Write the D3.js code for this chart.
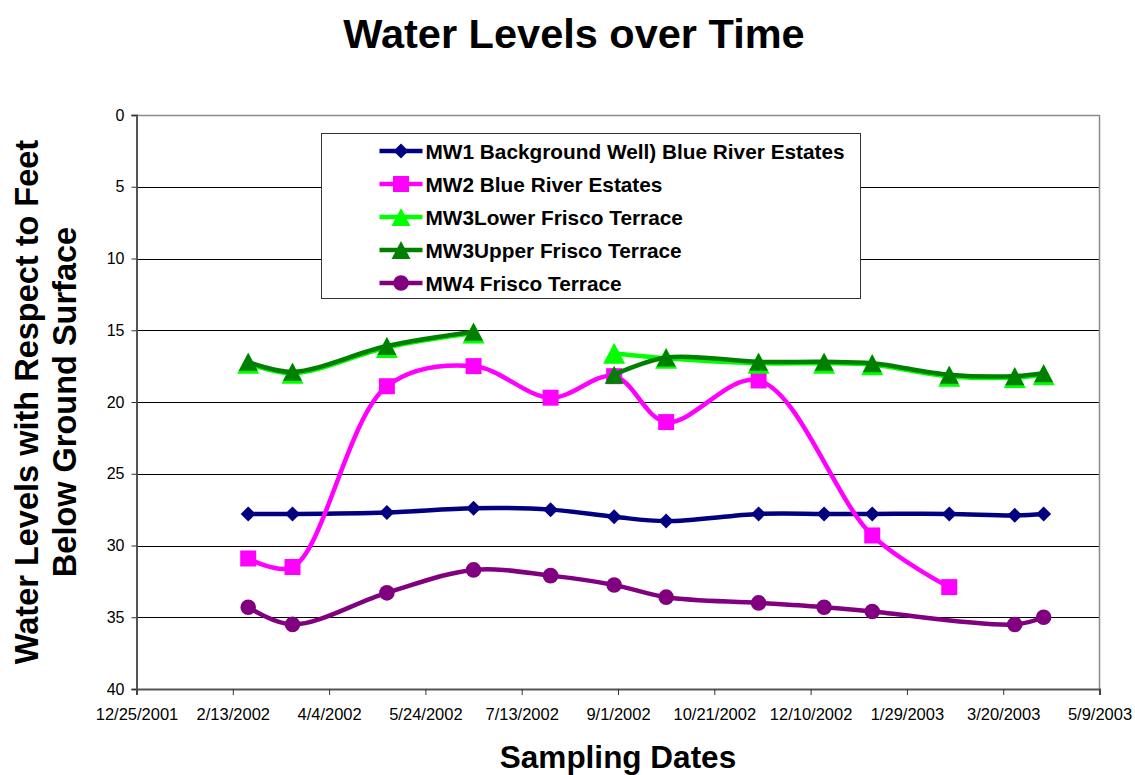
<!DOCTYPE html>
<html>
<head>
<meta charset="utf-8">
<script src="https://cdn.jsdelivr.net/npm/d3@7"></script>
<style>
    body { margin: 0; background: #fff; }
    svg { display: block; font-family: "Liberation Sans", Arial, sans-serif; }
    .grid line { stroke: #000; stroke-width: 1; shape-rendering: crispEdges; }
    .tick-label { font-size: 16.5px; fill: #000; }
    .title { font-size: 41.5px; font-weight: bold; }
    .axis-title { font-size: 31.5px; font-weight: bold; }
    .legend-label { font-size: 20.8px; font-weight: bold; }
</style>
</head>
<body>
<svg id="chart" width="1135" height="775"></svg>
<script>
'use strict';

// sampling dates (m/d/yyyy)
var sampleDates = ['2/21/2002', '3/16/2002', '5/4/2002', '6/18/2002', '7/28/2002', '8/30/2002', '9/26/2002',
    '11/13/2002', '12/17/2002', '1/11/2003', '2/20/2003', '3/26/2003', '4/10/2003'];

// depth below ground surface, feet (null = not sampled)
var mw1 = [27.8, 27.8, 27.7, 27.4, 27.5, 28.0, 28.3, 27.8, 27.8, 27.8, 27.8, 27.9, 27.8];
var mw2 = [30.9, 31.5, 18.9, 17.5, 19.7, 18.2, 21.4, 18.5, null, 29.3, 32.9, null, null];
var mw3Lower = [17.3, 18.0, 16.2, 15.2, null, 16.6, 16.95, 17.3, 17.3, 17.4, 18.2, 18.3, 18.1];
var mw3Upper = [17.2, 17.9, 16.1, 15.1, null, 18.1, 16.9, 17.2, 17.2, 17.3, 18.1, 18.2, 18.0];
var mw4 = [34.3, 35.5, 33.3, 31.7, 32.1, 32.75, 33.6, 34.0, 34.3, 34.6, null, 35.5, 35.0];

var xTickLabels = ['12/25/2001', '2/13/2002', '4/4/2002', '5/24/2002', '7/13/2002', '9/1/2002',
    '10/21/2002', '12/10/2002', '1/29/2003', '3/20/2003', '5/9/2003'];
var yTickValues = [0, 5, 10, 15, 20, 25, 30, 35, 40];

// span: line goes on over a missing sample, break: line stops there
var series = [
    { name: 'MW1 Background Well) Blue River Estates', values: mw1, color: '#000080', marker: 'diamond', gaps: 'span' },
    { name: 'MW2 Blue River Estates', values: mw2, color: '#ff00ff', marker: 'square', gaps: 'span' },
    { name: 'MW3Lower Frisco Terrace', values: mw3Lower, color: '#00ff00', marker: 'triangleBig', gaps: 'break' },
    { name: 'MW3Upper Frisco Terrace', values: mw3Upper, color: '#008000', marker: 'triangle', gaps: 'break' },
    { name: 'MW4 Frisco Terrace', values: mw4, color: '#800080', marker: 'circle', gaps: 'span' }
];

var parseDate = d3.utcParse('%m/%d/%Y');
var svg = d3.select('#chart');

var plot = { left: 136.5, right: 1099.5, top: 115, bottom: 689 };

var x = d3.scaleUtc()
    .domain([parseDate(xTickLabels[0]), parseDate(xTickLabels[xTickLabels.length - 1])])
    .range([plot.left, plot.right]);
var y = d3.scaleLinear().domain([0, 40]).range([plot.top, plot.bottom]);

// cx, cy: center
function markerPath(shape, cx, cy) {
    var h;
    if (shape === 'diamond') {
        h = 7.5;
        return ['M', cx, cy - h, 'L', cx + h, cy, 'L', cx, cy + h, 'L', cx - h, cy, 'Z'].join(' ');
    }
    if (shape === 'square') {
        h = 8;
        return ['M', cx - h, cy - h, 'h', 2 * h, 'v', 2 * h, 'h', -2 * h, 'Z'].join(' ');
    }
    if (shape === 'triangle' || shape === 'triangleBig') {
        var w = shape === 'triangle' ? 9.5 : 11;
        var t = shape === 'triangle' ? 9 : 10.5;
        return ['M', cx, cy - t, 'L', cx + w, cy + t, 'L', cx - w, cy + t, 'Z'].join(' ');
    }
    h = 7.8;
    return ['M', cx - h, cy, 'A', h, h, '0 1 0', cx + h, cy, 'A', h, h, '0 1 0', cx - h, cy, 'Z'].join(' ');
}

// grid lines
svg.append('g').attr('class', 'grid').selectAll('line')
    .data(yTickValues.filter(function (d) { return d > 0 && d < 40; }))
    .enter().append('line')
    .attr('x1', plot.left).attr('x2', plot.right)
    .attr('y1', function (d) { return Math.round(y(d)) + 0.5; })
    .attr('y2', function (d) { return Math.round(y(d)) + 0.5; });

// plot border, top and right
svg.append('path')
    .attr('d', ['M', plot.left, plot.top + 0.5, 'H', plot.right, 'V', plot.bottom].join(' '))
    .attr('fill', 'none').attr('stroke', '#8c8c8c').attr('stroke-width', 1.5);

// axes
var yAxis = d3.axisLeft(y).tickValues(yTickValues).tickSize(5).tickPadding(7);
var gy = svg.append('g').attr('transform', 'translate(' + plot.left + ',0)').call(yAxis);
gy.select('.domain').attr('stroke', '#555').attr('stroke-width', 2);
gy.selectAll('.tick line').attr('stroke', '#333');
gy.selectAll('.tick text').attr('class', 'tick-label').style('font-size', '16px');

var xAxis = d3.axisBottom(x).tickValues(xTickLabels.map(parseDate)).tickSize(6).tickPadding(13)
    .tickFormat(function (d, i) { return xTickLabels[i]; });
var gx = svg.append('g').attr('transform', 'translate(0,' + plot.bottom + ')').call(xAxis);
gx.select('.domain').attr('stroke', '#555').attr('stroke-width', 2);
gx.selectAll('.tick line').attr('stroke', '#333');
gx.selectAll('.tick text').attr('class', 'tick-label');

// series, drawn one after the other like the original
var curve = d3.curveCatmullRom.alpha(0.5);

series.forEach(function (s) {
    var points = sampleDates.map(function (d, i) {
        return { date: parseDate(d), value: s.values[i] };
    });
    var g = svg.append('g');
    var line = d3.line()
        .x(function (d) { return x(d.date); })
        .y(function (d) { return y(d.value); })
        .curve(curve);

    var lineData = points;
    if (s.gaps === 'span') {
        lineData = points.filter(function (d) { return d.value !== null; });
    } else {
        line.defined(function (d) { return d.value !== null; });
    }

    g.append('path').datum(lineData)
        .attr('d', line)
        .attr('fill', 'none')
        .attr('stroke', s.color)
        .attr('stroke-width', 4.5)
        .attr('stroke-linejoin', 'round');

    g.selectAll('.marker')
        .data(points.filter(function (d) { return d.value !== null; }))
        .enter().append('path')
        .attr('class', 'marker')
        .attr('d', function (d) { return markerPath(s.marker, x(d.date), y(d.value)); })
        .attr('fill', s.color);
});

// legend
var legend = svg.append('g').attr('transform', 'translate(321.5,133.5)');
legend.append('rect').attr('width', 539).attr('height', 165)
    .attr('fill', '#fff').attr('stroke', '#333').attr('stroke-width', 1);

var item = legend.selectAll('.item').data(series).enter().append('g')
    .attr('class', 'item')
    .attr('transform', function (d, i) { return 'translate(0,' + (17.5 + i * 33) + ')'; });
item.append('line').attr('x1', 58).attr('x2', 101)
    .attr('stroke', function (d) { return d.color; }).attr('stroke-width', 4.5);
item.append('path')
    .attr('d', function (d) { return markerPath(d.marker === 'triangleBig' ? 'triangle' : d.marker, 79.5, 0); })
    .attr('fill', function (d) { return d.color; });
item.append('text').attr('class', 'legend-label')
    .attr('x', 104).attr('y', 7.5)
    .text(function (d) { return d.name; });

// titles
svg.append('text').attr('class', 'title')
    .attr('x', 574).attr('y', 48).attr('text-anchor', 'middle')
    .text('Water Levels over Time');

svg.append('text').attr('class', 'axis-title')
    .attr('x', (plot.left + plot.right) / 2).attr('y', 768).attr('text-anchor', 'middle')
    .text('Sampling Dates');

var yTitle = svg.append('text').attr('class', 'axis-title')
    .attr('text-anchor', 'middle')
    .style('font-size', '32.5px')
    .attr('transform', 'translate(38,402) rotate(-90)');
yTitle.append('tspan').attr('x', 0).attr('y', 0).text('Water Levels with Respect to Feet');
yTitle.append('tspan').attr('x', 0).attr('y', 38).text('Below Ground Surface');
</script>
</body>
</html>
